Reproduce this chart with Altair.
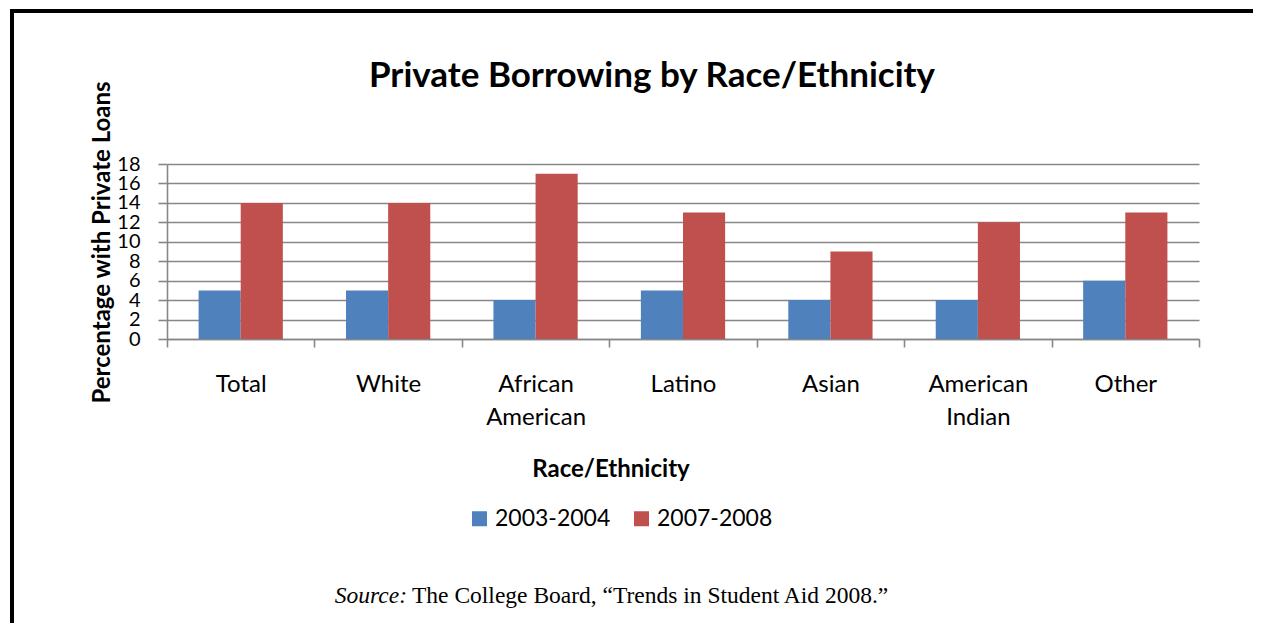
import altair as alt
import pandas as pd

CATEGORIES = ["Total", "White", "African American", "Latino", "Asian", "American Indian", "Other"]
SERIES = ["2003-2004", "2007-2008"]
VALUES_0304 = [5, 5, 4, 5, 4, 4, 6]
VALUES_0708 = [14, 14, 17, 13, 9, 12, 13]
Y_TICKS = [0, 2, 4, 6, 8, 10, 12, 14, 16, 18]
COLORS = ["#4F81BD", "#C0504D"]
TITLE = "Private Borrowing by Race/Ethnicity"
X_TITLE = "Race/Ethnicity"
Y_TITLE = "Percentage with Private Loans"
SOURCE_LABEL = "Source:"
SOURCE_TEXT = "The College Board, \u201cTrends in Student Aid 2008.\u201d"

rows = []
for s, vals in zip(SERIES, [VALUES_0304, VALUES_0708]):
    for c, v in zip(CATEGORIES, vals):
        rows.append({"category": c, "series": s, "value": v})
df = pd.DataFrame(rows)

GRAY = "#878787"
FONT = "Lato"

bars = alt.Chart(df).mark_bar().encode(
    x=alt.X(
        "category:N",
        sort=CATEGORIES,
        scale=alt.Scale(paddingInner=0, paddingOuter=0),
        axis=alt.Axis(
            title=X_TITLE,
            labelExpr="split(datum.label, ' ')",
            labelAngle=0,
            tickBand="extent",
            grid=False,
            domainColor=GRAY,
            domainWidth=1.6,
            tickColor=GRAY,
            tickWidth=1.6,
            tickSize=8,
            labelFont=FONT,
            labelFontSize=24,
            labelColor="black",
            labelPadding=25,
            labelLineHeight=33,
            titleFont=FONT,
            titleFontWeight="bold",
            titleFontSize=24,
            titleColor="black",
            titleX=443.5,
            titleY=137,
            titleAlign="center",
            titleBaseline="alphabetic",
        ),
    ),
    xOffset=alt.XOffset(
        "series:N", sort=SERIES, scale=alt.Scale(paddingInner=0, paddingOuter=0.75)
    ),
    y=alt.Y(
        "value:Q",
        scale=alt.Scale(domain=[0, 18], nice=False),
        axis=alt.Axis(
            title=Y_TITLE,
            values=Y_TICKS,
            grid=True,
            gridColor=GRAY,
            gridWidth=1.6,
            domainColor=GRAY,
            domainWidth=1.6,
            tickColor=GRAY,
            tickWidth=1.6,
            tickSize=9,
            labelFont=FONT,
            labelFontSize=20,
            labelColor="black",
            labelPadding=18,
            labelOverlap=False,
            labelFlush=False,
            titleFont=FONT,
            titleFontWeight="bold",
            titleFontSize=24,
            titleColor="black",
            titleX=-58,
            titleY=78,
            titleAlign="center",
            titleBaseline="alphabetic",
            titleAngle=270,
        ),
    ),
    color=alt.Color(
        "series:N",
        sort=SERIES,
        scale=alt.Scale(domain=SERIES, range=COLORS),
        legend=alt.Legend(
            title=None,
            orient="none",
            legendX=301,
            legendY=343,
            direction="horizontal",
            symbolType="square",
            symbolSize=225,
            symbolStrokeWidth=0,
            labelFont=FONT,
            labelFontSize=23,
            labelColor="black",
            labelOffset=4,
            columnPadding=19,
            padding=0,
        ),
    ),
)

one = alt.Data(values=[{"k": 0}])

frame_top = alt.Chart(one).mark_rule(color="black", strokeWidth=4).encode(
    x=alt.value(-157), x2=alt.value(1086), y=alt.value(-153)
)
frame_left = alt.Chart(one).mark_rule(color="black", strokeWidth=4).encode(
    x=alt.value(-155), y=alt.value(-155), y2=alt.value(460)
)

title = alt.Chart(alt.Data(values=[{"t": TITLE}])).mark_text(
    font=FONT, fontSize=35, fontWeight="bold", align="center", baseline="alphabetic", color="black"
).encode(text="t:N", x=alt.value(485), y=alt.value(-77))

src_label = alt.Chart(alt.Data(values=[{"t": SOURCE_LABEL}])).mark_text(
    font="Liberation Serif", fontSize=23.5, fontStyle="italic", align="right", baseline="alphabetic", color="black"
).encode(text="t:N", x=alt.value(240), y=alt.value(439))

src_text = alt.Chart(alt.Data(values=[{"t": SOURCE_TEXT}])).mark_text(
    font="Liberation Serif", fontSize=23.5, align="left", baseline="alphabetic", color="black"
).encode(text="t:N", x=alt.value(245), y=alt.value(439))

chart = alt.layer(frame_top, frame_left, bars, title, src_label, src_text).properties(
    width=1032,
    height=175,
    autosize=alt.AutoSizeParams(type="none"),
    padding={"left": 159, "top": 156, "right": 54, "bottom": 284},
    background="white",
).configure_view(stroke=None)

chart.save("out.html", embed_options={"renderer": "svg", "actions": False})
